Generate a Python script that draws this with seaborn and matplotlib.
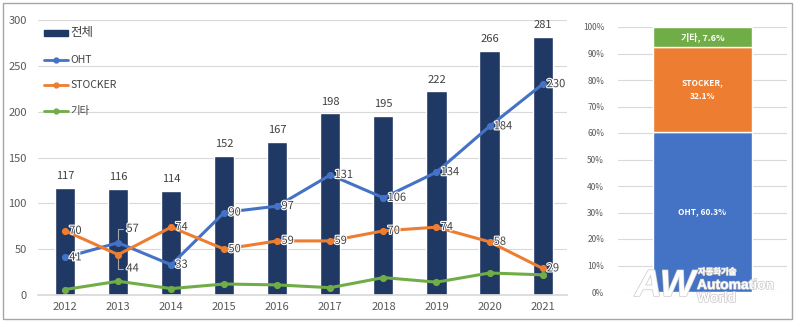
import numpy as np
import pandas as pd
import matplotlib
matplotlib.use("Agg")
import matplotlib.pyplot as plt
import matplotlib.patheffects as pe
from matplotlib.lines import Line2D
from matplotlib.patches import Patch, Rectangle
import seaborn as sns

# ---- data ----
years = ["2012", "2013", "2014", "2015", "2016", "2017", "2018", "2019", "2020", "2021"]
total = [117, 116, 114, 152, 167, 198, 195, 222, 266, 281]
oht = [41, 57, 33, 90, 97, 131, 106, 134, 184, 230]
stocker = [70, 44, 74, 50, 59, 59, 70, 74, 58, 29]
etc = [6, 15, 7, 12, 11, 8, 19, 14, 24, 22]
share_labels = ["OHT", "STOCKER", "기타"]
share_values = [60.3, 32.1, 7.6]

sns.set_theme(style="white")
plt.rcParams["font.family"] = ["Noto Sans CJK KR", "DejaVu Sans"]

NAVY = "#203864"
BLUE = "#4472C4"
ORANGE = "#ED7D31"
GREEN = "#70AD47"
GRID = "#D9D9D9"
TXT = "#595959"
LBL = "#404040"
glow = [pe.withStroke(linewidth=1.6, foreground="white")]

fig = plt.figure(figsize=(7.95, 3.22), dpi=100)

# ---- left panel ----
ax = fig.add_axes([38 / 795, 1 - 295 / 322, (567 - 38) / 795, 275 / 322])
df = pd.DataFrame({"year": years, "total": total})
sns.barplot(data=df, x="year", y="total", color=NAVY, width=0.38, ax=ax,
            saturation=1, zorder=2)
series = [(oht, BLUE, "OHT"), (stocker, ORANGE, "STOCKER"), (etc, GREEN, "기타")]
for vals, col, name in series:
    d = pd.DataFrame({"year": years, "v": vals})
    sns.pointplot(data=d, x="year", y="v", color=col, ax=ax, markers="o",
                  markersize=3.5, linewidth=2.2, zorder=3)

ax.set_xlim(-0.51, 9.46)
ax.set_ylim(0, 300)
ax.set_yticks(range(0, 301, 50))
ax.set_xlabel("")
ax.set_ylabel("")
ax.grid(axis="y", color=GRID, linewidth=0.8, zorder=0)
ax.set_axisbelow(True)
for s in ["left", "right", "top"]:
    ax.spines[s].set_visible(False)
ax.spines["bottom"].set_color(GRID)
ax.tick_params(axis="both", length=0, labelsize=8, labelcolor=TXT)
ax.tick_params(axis="y", pad=8)
ax.tick_params(axis="x", pad=5)

for i, v in enumerate(total):
    ax.annotate(str(v), (i, v), xytext=(0, 5), textcoords="offset points",
                ha="center", va="bottom", fontsize=8, color=LBL)

def lab(i, v, dx=3, dy=0):
    ax.annotate(str(v), (i, v), xytext=(dx, dy), textcoords="offset points",
                ha="left", va="center", fontsize=8, color=LBL, zorder=5,
                path_effects=glow)

for i, v in enumerate(oht):
    if i == 1:
        continue
    lab(i, v)
for i, v in enumerate(stocker):
    if i == 1:
        continue
    lab(i, v)
# 2013 labels with leader lines
for v, dy in ((oht[1], 10), (stocker[1], -10)):
    ax.annotate(str(v), (1, v), xytext=(6, dy), textcoords="offset points", ha="left",
                va="center", fontsize=8, color=LBL, zorder=5, path_effects=glow,
                arrowprops=dict(arrowstyle="-", color="#A6A6A6", lw=0.8,
                                connectionstyle="angle,angleA=0,angleB=90,rad=0",
                                shrinkA=0, shrinkB=3))

handles = [Patch(facecolor=NAVY, edgecolor=NAVY)]
for _, col, _n in series:
    handles.append(Line2D([0], [0], color=col, lw=2, marker="o", markersize=3.5))
leg = ax.legend(handles, ["전체", "OHT", "STOCKER", "기타"], loc="upper left",
                bbox_to_anchor=(0.0, 1.0), frameon=False, fontsize=7.5,
                labelspacing=1.5, handlelength=2.3, handleheight=0.5,
                handletextpad=0.2, borderaxespad=0.2)
for t in leg.get_texts():
    t.set_color(LBL)
leg.get_texts()[0].set_fontsize(9)

# ---- right panel ----
ax2 = fig.add_axes([618 / 795, 1 - 292 / 322, (787 - 618) / 795, 265 / 322])
bottom = 0.0
cols = [BLUE, ORANGE, GREEN]
for name, v, col in zip(share_labels, share_values, cols):
    ax2.bar([0], [v], bottom=bottom, width=0.59, color=col, zorder=2)
    bottom += v
ax2.set_xlim(-0.5, 0.5)
ax2.set_ylim(0, 100)
ax2.set_yticks(range(0, 101, 10))
ax2.set_yticklabels([f"{t}%" for t in range(0, 101, 10)])
ax2.set_xticks([])
ax2.grid(axis="y", color=GRID, linewidth=0.8, zorder=0)
ax2.set_axisbelow(True)
for s in ax2.spines.values():
    s.set_visible(False)
ax2.tick_params(axis="y", length=0, labelsize=6, labelcolor=TXT, pad=10)

ax2.text(0, share_values[0] / 2, f"{share_labels[0]}, {share_values[0]}%",
         ha="center", va="center", fontsize=6, color="white", fontweight="bold")
ax2.text(0, share_values[0] + share_values[1] / 2,
         f"{share_labels[1]},\n{share_values[1]}%", ha="center", va="center",
         fontsize=6, color="white", fontweight="bold", linespacing=1.6)
ax2.text(0, share_values[0] + share_values[1] + share_values[2] / 2,
         f"{share_labels[2]}, {share_values[2]}%", ha="center", va="center",
         fontsize=6.5, color="white", fontweight="bold")

# ---- outer frame ----
fig.patches.append(Rectangle((3 / 795, 3 / 322), 789 / 795, 316 / 322,
                             transform=fig.transFigure, fill=False,
                             edgecolor="#A6A6A6", linewidth=1))

# ---- watermark ----
shadow = [pe.withStroke(linewidth=1.0, foreground="#C8C8C8")]
fig.text(665 / 795, 1 - 286 / 322, "AW", ha="center", va="center", fontsize=27,
         fontweight="bold", style="italic", color="white", alpha=0.95,
         path_effects=shadow, family=["Liberation Sans Narrow", "Liberation Sans", "DejaVu Sans"])
fig.text(698 / 795, 1 - 272 / 322, "자동화기술", ha="left", va="center", fontsize=6,
         color="white", fontweight="bold", path_effects=shadow)
fig.text(697 / 795, 1 - 285 / 322, "Automation", ha="left", va="center",
         fontsize=10, color="white", fontweight="bold", path_effects=shadow,
         family=["Liberation Sans", "DejaVu Sans"])
fig.text(697 / 795, 1 - 298 / 322, "World", ha="left", va="center",
         fontsize=10, color="white", fontweight="bold", path_effects=shadow,
         family=["Liberation Sans", "DejaVu Sans"])

fig.savefig("out.png", dpi=100)
